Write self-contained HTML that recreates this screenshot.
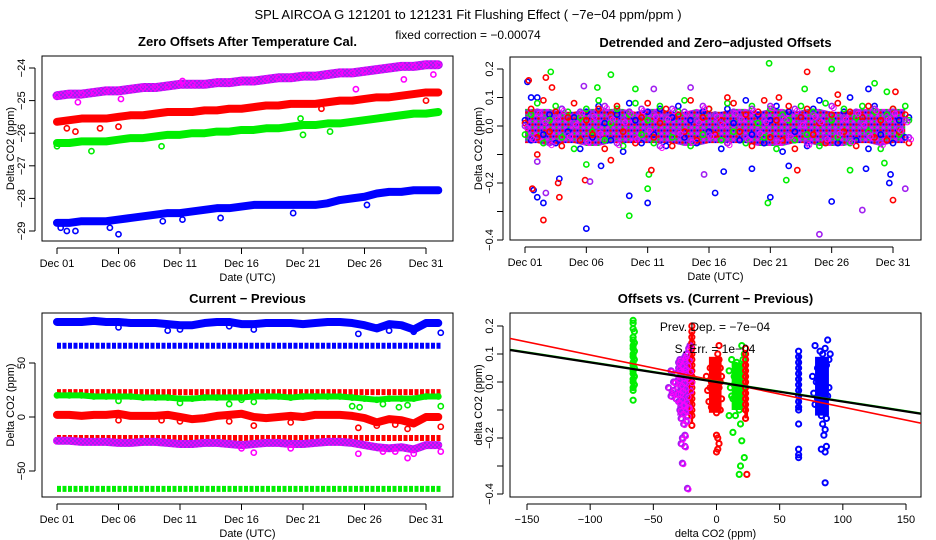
<!DOCTYPE html>
<html><head><meta charset="utf-8"><style>
body{margin:0;background:#fff;}
svg{display:block;font-family:"Liberation Sans",sans-serif;}
</style></head><body>
<svg id="chart" width="936" height="540" viewBox="0 0 936 540">
<defs>
<pattern id="mixPat" width="6" height="6" patternUnits="userSpaceOnUse">
<rect width="6" height="6" fill="#a020f0"/>
<circle cx="1.5" cy="1.5" r="1.3" fill="#ff00ff"/>
<circle cx="4.5" cy="4.5" r="1.3" fill="#ff0000"/>
<circle cx="4.5" cy="1.5" r="1" fill="#00ee00"/>
<circle cx="1.5" cy="4.5" r="1" fill="#0000ff"/>
</pattern>
<pattern id="purpPat" width="4" height="4" patternUnits="userSpaceOnUse">
<rect width="4" height="4" fill="#a020f0"/>
<circle cx="1" cy="1" r="1" fill="#ff00ff"/>
<circle cx="3" cy="3" r="1" fill="#ff00ff"/>
</pattern>
</defs>
<text x="468" y="19" text-anchor="middle" font-size="13">SPL   AIRCOA G   121201 to 121231   Fit Flushing Effect ( −7e−04 ppm/ppm )</text>
<text x="468" y="39" text-anchor="middle" font-size="12">fixed correction = −0.00074</text>
</svg>
<script>
// ---------- Panel 1: Zero offsets (daily values, days 1..32) ----------
const days = [1,2,3,4,5,6,7,8,9,10,11,12,13,14,15,16,17,18,19,20,21,22,23,24,25,26,27,28,29,30,31,32];
const zeroPurple = [-24.85,-24.8,-24.8,-24.75,-24.7,-24.7,-24.65,-24.6,-24.6,-24.55,-24.5,-24.5,-24.5,-24.45,-24.45,-24.4,-24.4,-24.35,-24.3,-24.3,-24.25,-24.25,-24.2,-24.15,-24.15,-24.1,-24.05,-24.0,-23.95,-23.95,-23.9,-23.9];
const zeroRed = [-25.65,-25.6,-25.55,-25.55,-25.55,-25.5,-25.45,-25.45,-25.4,-25.35,-25.35,-25.35,-25.3,-25.3,-25.25,-25.25,-25.2,-25.15,-25.15,-25.1,-25.1,-25.1,-25.05,-25.0,-25.0,-24.95,-24.9,-24.9,-24.85,-24.8,-24.75,-24.75];
const zeroGreen = [-26.3,-26.3,-26.25,-26.25,-26.25,-26.2,-26.15,-26.15,-26.1,-26.05,-26.05,-26.0,-26.0,-25.95,-25.95,-25.9,-25.9,-25.85,-25.85,-25.8,-25.75,-25.75,-25.7,-25.7,-25.65,-25.6,-25.55,-25.5,-25.45,-25.4,-25.4,-25.35];
const zeroBlue = [-28.75,-28.75,-28.7,-28.7,-28.7,-28.65,-28.6,-28.55,-28.5,-28.45,-28.45,-28.4,-28.35,-28.3,-28.3,-28.25,-28.2,-28.2,-28.2,-28.2,-28.2,-28.2,-28.15,-28.05,-28.0,-27.95,-27.85,-27.8,-27.8,-27.75,-27.75,-27.75];
const zeroPurpleOut = [[2.7,-25.05],[6.2,-24.95],[25.3,-24.65],[29.2,-24.35],[31.6,-24.2],[11.2,-24.4]];
const zeroRedOut = [[1.8,-25.85],[2.5,-25.95],[4.5,-25.85],[6,-25.8],[31,-25.0],[22.5,-25.25]];
const zeroGreenOut = [[1,-26.4],[3.8,-26.55],[9.5,-26.4],[21,-26.05],[23.2,-25.95],[20.8,-25.55]];
const zeroBlueOut = [[1.3,-28.9],[1.8,-29.0],[2.5,-29.0],[5.3,-28.9],[9.6,-28.7],[11.2,-28.65],[14.3,-28.6],[20.2,-28.45],[26.2,-28.2],[6,-29.1]];
const zeroTicks = [-24,-25,-26,-27,-28,-29];
const dateTicks = [1,6,11,16,21,26,31];
const dateLabels = ["Dec 01","Dec 06","Dec 11","Dec 16","Dec 21","Dec 26","Dec 31"];

// ---------- Panel 2: detrended offsets (half-day values) ----------
const halfDays = [1,1.5,2,2.5,3,3.5,4,4.5,5,5.5,6,6.5,7,7.5,8,8.5,9,9.5,10,10.5,11,11.5,12,12.5,13,13.5,14,14.5,15,15.5,16,16.5,17,17.5,18,18.5,19,19.5,20,20.5,21,21.5,22,22.5,23,23.5,24,24.5,25,25.5,26,26.5,27,27.5,28,28.5,29,29.5,30,30.5,31,31.5,32,32.3];
const detBlue = [0.02,-0.05,0.1,-0.03,0.04,-0.06,0.06,-0.02,0.03,-0.08,0.05,-0.04,0.07,0.01,-0.05,0.04,-0.09,0.08,0.02,-0.06,0.05,-0.03,0.06,-0.07,0.03,0.07,-0.04,0.02,-0.06,0.05,-0.02,0.04,-0.08,0.06,0.01,-0.05,0.09,-0.03,0.04,-0.06,0.02,0.07,-0.09,0.05,-0.02,0.03,-0.07,0.06,0.09,-0.04,0.02,-0.06,0.05,0.1,-0.05,0.03,-0.08,0.07,-0.03,0.04,-0.06,0.02,-0.04,0.03];
const detRed = [0.01,0.06,-0.04,0.09,-0.02,0.05,-0.07,0.03,0.08,-0.05,0.02,-0.03,0.06,-0.08,0.04,0.07,-0.02,0.05,-0.06,0.03,0.08,-0.04,0.01,0.06,-0.07,0.04,-0.02,0.09,-0.05,0.03,0.06,-0.03,0.02,-0.06,0.08,-0.02,0.04,-0.07,0.05,0.09,-0.04,0.02,-0.05,0.07,-0.08,0.03,0.06,-0.03,0.01,-0.06,0.04,0.08,-0.02,0.05,-0.07,0.03,0.07,-0.04,0.02,-0.05,0.06,-0.02,0.04,-0.06];
const detGreen = [-0.03,0.04,0.08,-0.06,0.02,0.07,-0.04,0.05,-0.08,0.03,0.06,-0.02,0.09,-0.05,0.01,0.06,-0.07,0.04,0.08,-0.03,0.02,-0.06,0.07,0.03,-0.04,0.05,0.09,-0.07,0.02,-0.03,0.06,0.04,-0.05,0.08,-0.02,0.03,-0.06,0.07,0.01,-0.04,0.06,-0.08,0.04,0.02,-0.05,0.07,-0.03,0.05,-0.07,0.08,0.02,-0.04,0.06,-0.06,0.03,0.07,-0.02,0.05,-0.08,0.04,0.06,-0.03,0.07,0.02];
const detPurple = [0.0,-0.04,0.05,0.02,-0.06,0.03,0.06,-0.03,0.01,0.05,-0.05,0.04,-0.02,0.07,0.03,-0.06,0.02,0.05,-0.04,0.06,-0.01,0.04,-0.07,0.03,0.06,-0.02,0.05,-0.05,0.02,0.07,-0.03,0.04,0.01,-0.06,0.05,0.03,-0.04,0.06,-0.02,0.02,0.07,-0.05,0.03,-0.03,0.06,0.01,-0.06,0.04,0.02,-0.04,0.07,-0.02,0.03,-0.05,0.05,0.01,-0.03,0.06,-0.06,0.03,0.05,-0.01,0.02,-0.04];
const detBandHigh = [0.06,0.06,0.06,0.05,0.05,0.06,0.06,0.06,0.06,0.05,0.06,0.06,0.05,0.05,0.06,0.05,0.05,0.06,0.06,0.05,0.06,0.06,0.05,0.06,0.06,0.05,0.05,0.06,0.06,0.06,0.06,0.06];
const detBandLow = [-0.06,-0.06,-0.07,-0.06,-0.06,-0.07,-0.07,-0.06,-0.06,-0.06,-0.06,-0.06,-0.06,-0.07,-0.07,-0.06,-0.06,-0.06,-0.06,-0.07,-0.07,-0.07,-0.06,-0.06,-0.07,-0.07,-0.07,-0.06,-0.06,-0.07,-0.06,-0.06];
const detBlueOut = [[1.2,0.155],[1.5,0.1],[1.7,-0.225],[2,-0.25],[2.5,-0.27],[3.8,-0.185],[6,-0.36],[9.5,-0.245],[11,-0.27],[16.5,-0.235],[21,-0.25],[26,-0.265],[29,0.13],[30.7,-0.2],[30.8,-0.17],[7.2,-0.14],[17.2,-0.16],[22.5,-0.14],[19.5,-0.15],[28.8,-0.15]];
const detRedOut = [[1.3,0.16],[1.6,-0.22],[2.7,0.17],[2.5,-0.33],[3.8,-0.25],[3.7,-0.2],[5.9,-0.19],[11.3,-0.155],[2,-0.1],[24,0.19],[31,-0.26],[8,-0.12],[17.5,0.1],[21.7,0.1],[26.5,0.11],[31.2,0.12],[23.2,-0.155],[3.2,0.135]];
const detGreenOut = [[3.1,0.19],[8,0.18],[9.5,-0.315],[11,-0.22],[11.1,-0.17],[20.9,0.22],[20.8,-0.27],[22.3,-0.19],[23.8,0.13],[26,0.2],[29.5,0.15],[30.5,0.12],[10,0.13],[6.9,0.135],[30.3,-0.13],[6,-0.135],[27.5,-0.155]];
const detPurpleOut = [[2.7,-0.235],[6.3,-0.195],[5.8,0.14],[15.6,-0.17],[25,-0.38],[28.5,-0.295],[32,-0.22],[11.5,0.13],[14.5,0.135],[2,-0.125]];
const detTicks = [0.2,0.1,0.0,-0.1,-0.2,-0.3,-0.4];
const detTickLabels = ["0.2","0.1","0.0","","−0.2","","−0.4"];

// ---------- Panel 3: current - previous (daily values) ----------
const cpBlueHigh = [88,88,88,89,88,88,87,87,87,86,85,85,87,88,88,86,86,87,87,87,86,87,88,88,87,85,82,86,85,81,87,87];
const cpRedMid = [2,2,1,2,2,3,1,1,1,2,0,-2,-1,1,2,3,0,-1,0,1,0,2,2,2,1,-1,-5,-2,-3,-6,0,0];
const cpGreenMid = [20,20,20,19,19,19,19,18,18,18,17,17,18,18,18,18,19,19,19,18,19,19,19,19,18,17,16,17,17,17,19,19];
const cpPurple = [-22,-22,-23,-23,-23,-24,-24,-23,-23,-24,-25,-25,-24,-24,-25,-26,-25,-24,-24,-25,-25,-24,-23,-23,-24,-26,-28,-29,-28,-30,-26,-26];
const cpBlueHighOut = [[6,83],[10,80],[11,81],[15,84],[17,81],[25.5,77],[28,80],[30,79],[32.2,78]];
const cpRedMidOut = [[6,-3],[9.5,-3],[11,-4],[15,-4],[17,-8],[20,-5],[25.5,-10],[27,-8],[28.5,-7],[29.5,-11],[32.2,-9]];
const cpGreenMidOut = [[6,15],[11,13],[15,12],[16,16],[17,14],[25,10],[25.6,9],[27.5,12],[28.8,9],[29.5,11],[32.2,10]];
const cpPurpleOut = [[16,-29],[17,-33],[20,-29],[25.5,-34],[27.5,-32],[28.5,-32],[29.5,-38],[30,-34],[32.2,-32]];
const cpConstLevels = [66,23,-19.5,-66.5];
const cpConstColors = ["#0000ff","#ff0000","#ff0000","#00ee00"];
const cpTicks = [50,0,-50];
const cpTickLabels = ["50","0","−50"];

// ---------- Panel 4: offsets vs current-previous ----------
const scGreenA = [[-66,0.22],[-66,0.21],[-66,0.19],[-65,0.18],[-66,0.16],[-66,0.15],[-65,0.14],[-66,0.13],[-66,0.12],[-65,0.11],[-66,0.1],[-66,0.09],[-65,0.08],[-66,0.07],[-66,0.06],[-65,0.05],[-66,0.04],[-66,0.03],[-65,0.02],[-66,0.01],[-66,0.0],[-65,-0.01],[-66,-0.02],[-66,-0.03],[-66,-0.065]];
const scPurple = [[-30,0.07],[-28,0.06],[-26,0.08],[-24,0.1],[-22,0.12],[-21,0.13],[-32,0.03],[-29,0.04],[-27,0.03],[-25,0.05],[-23,0.06],[-21,0.04],[-33,0.0],[-30,0.01],[-28,-0.01],[-26,0.0],[-24,0.02],[-22,0.01],[-20,0.0],[-34,-0.03],[-31,-0.02],[-29,-0.04],[-27,-0.03],[-25,-0.02],[-23,-0.05],[-21,-0.03],[-32,-0.06],[-30,-0.07],[-28,-0.06],[-26,-0.08],[-24,-0.07],[-22,-0.09],[-29,-0.1],[-27,-0.11],[-25,-0.1],[-23,-0.12],[-28,-0.13],[-26,-0.15],[-24,-0.14],[-38,-0.02],[-36,0.04],[-35,-0.04],[-27,-0.2],[-25,-0.19],[-28,-0.22],[-25,-0.23],[-27,-0.29],[-23,-0.38],[-34,0.0],[-36,-0.05],[-30,0.05],[-26,0.04],[-22,0.08],[-31,-0.04],[-27,-0.08],[-23,-0.09],[-29,0.08],[-25,0.09]];
const scRedA = [[-19.5,0.2],[-19.5,0.18],[-19.5,0.16],[-19.5,0.14],[-19.5,0.12],[-19.5,0.1],[-19.5,0.08],[-19.5,0.06],[-19.5,0.04],[-19.5,0.02],[-19.5,0.0],[-19.5,-0.02],[-19.5,-0.04],[-19.5,-0.06],[-19.5,-0.08],[-19.5,-0.1],[-19.5,-0.12],[-19.5,-0.155]];
const scRedB = [[-8,0.02],[-7,-0.03],[-6,-0.07],[-5,0.05],[-4,0.0],[-3,-0.04],[-2,0.06],[-1,-0.08],[0,0.03],[1,-0.05],[2,0.08],[3,-0.1],[4,0.02],[-3,0.07],[-1,0.0],[0,-0.11],[1,0.1],[2,-0.02],[3,0.05],[-2,-0.06],[0,0.07],[1,-0.09],[4,-0.06],[-5,-0.02],[2,0.13],[0,-0.19],[1,-0.2],[2,-0.22],[0,-0.25],[1,-0.24],[-4,-0.09],[3,0.0]];
const scGreenB = [[10,0.04],[11,-0.02],[12,0.08],[13,-0.06],[14,0.02],[15,0.06],[16,-0.04],[17,0.0],[18,0.05],[19,-0.08],[20,0.03],[21,-0.02],[22,0.1],[18,-0.1],[16,0.07],[14,-0.01],[12,-0.05],[20,0.13],[15,-0.12],[19,-0.15],[13,-0.18],[10,-0.12],[20,-0.21],[22,-0.27],[19,-0.3],[18,-0.33],[21,0.08]];
const scRedC = [[23,0.12],[23,0.1],[23,0.08],[23,0.06],[23,0.04],[23,0.02],[23,0.0],[23,-0.02],[23,-0.04],[23,-0.06],[23,-0.08],[23,-0.1],[23,-0.13],[24,-0.33]];
const scBlueA = [[65,0.11],[65,0.09],[65,0.07],[65,0.05],[65,0.03],[65,0.01],[65,-0.01],[65,-0.03],[65,-0.05],[65,-0.07],[65,-0.09],[65,-0.1],[65,-0.15],[65,-0.24],[65,-0.26],[65,-0.27]];
const scBlueB = [[78,0.13],[80,0.05],[82,0.07],[84,0.1],[86,0.12],[88,0.15],[79,0.0],[81,0.03],[83,-0.02],[85,0.04],[87,0.06],[89,0.08],[77,-0.04],[80,-0.06],[82,-0.03],[84,-0.08],[86,-0.01],[88,-0.05],[78,-0.08],[81,-0.1],[83,-0.12],[85,-0.09],[87,-0.13],[89,-0.02],[84,-0.15],[86,-0.17],[85,-0.19],[83,-0.24],[86,-0.25],[87,-0.23],[86,-0.36],[76,0.02],[90,0.1],[82,0.11]];
// dense cluster cores: [xMin, xMax, yMin, yMax]
const scCoreGreenA = [-67,-64,-0.03,0.15];
const scCorePurple = [-31,-20,-0.12,0.08];
const scCoreRedA = [-20.5,-18.5,-0.15,0.18];
const scCoreRedB = [-6,4,-0.11,0.09];
const scCoreGreenB = [12,21,-0.1,0.07];
const scCoreRedC = [22,25,-0.13,0.11];
const scCoreBlueA = [64,66.5,-0.1,0.1];
const scCoreBlueB = [78,89,-0.12,0.09];
const fitSlopes = [-0.00093,-0.0007,-0.0007];
const fitIntercepts = [0.0035,0.002,0.0];
const fitColors = ["#ff0000","#00ee00","#000000"];
const scXTicks = [-150,-100,-50,0,50,100,150];
const scXTickLabels = ["−150","−100","−50","0","50","100","150"];

// ---------- drawing ----------
const NS = "http://www.w3.org/2000/svg";
const svg = document.getElementById("chart");
function mk(tag, attrs, parent){const e=document.createElementNS(NS,tag);for(const k in attrs)e.setAttribute(k,attrs[k]);(parent||svg).appendChild(e);return e;}
function lin(d0,d1,r0,r1){return v=>r0+(v-d0)*(r1-r0)/(d1-d0);}

function panelFrame(p){
  const g=mk("g",{});
  
  
  const box=mk("rect",{x:p.x0,y:p.y0,width:p.x1-p.x0,height:p.y1-p.y0,fill:"none",stroke:"#000","stroke-width":1},g);
  
  
  const t=mk("text",{x:(p.x0+p.x1)/2,y:p.y0-10,"text-anchor":"middle","font-size":13,"font-weight":"bold"},g);
  t.textContent=p.title;
  
  
  const xa=mk("g",{},g);
  
  
  const xl0=p.xs(p.xt[0]),xl1=p.xs(p.xt[p.xt.length-1]);
  mk("line",{x1:xl0,x2:xl1,y1:p.y1+7,y2:p.y1+7,stroke:"#000"},xa);
  p.xt.forEach((v,i)=>{const x=p.xs(v);mk("line",{x1:x,x2:x,y1:p.y1+7,y2:p.y1+13,stroke:"#000"},xa);
    const tl=mk("text",{x:x,y:p.y1+26,"text-anchor":"middle","font-size":11},xa);tl.textContent=p.xl[i];
    
    });
  const xt=mk("text",{x:(p.x0+p.x1)/2,y:p.y1+40,"text-anchor":"middle","font-size":11},xa);xt.textContent=p.xtitle;
  
  
  const ya=mk("g",{},g);
  
  
  const yl0=p.ys(p.yt[0]),yl1=p.ys(p.yt[p.yt.length-1]);
  mk("line",{x1:p.x0-7,x2:p.x0-7,y1:yl0,y2:yl1,stroke:"#000"},ya);
  p.yt.forEach((v,i)=>{const y=p.ys(v);mk("line",{x1:p.x0-13,x2:p.x0-7,y1:y,y2:y,stroke:"#000"},ya);
    if(p.yl[i]){const tl=mk("text",{x:p.x0-17,y:y,"text-anchor":"middle","font-size":11,transform:`rotate(-90 ${p.x0-17} ${y})`},ya);tl.textContent=p.yl[i];
    
    }});
  const yt=mk("text",{x:p.x0-28,y:(p.y0+p.y1)/2,"text-anchor":"middle","font-size":11,transform:`rotate(-90 ${p.x0-28} ${(p.y0+p.y1)/2})`},ya);yt.textContent=p.ytitle;
  
  
  const clip=mk("clipPath",{id:p.name+"-clip"},g);mk("rect",{x:p.x0,y:p.y0,width:p.x1-p.x0,height:p.y1-p.y0},clip);
  const plot=mk("g",{"clip-path":`url(#${p.name}-clip)`},g);
  
  
  return plot;
}
function pt(g,x,y,c,name,sw){const e=mk("circle",{cx:x,cy:y,r:2.6,fill:"none",stroke:c,"stroke-width":sw||1.6},g);
  
  return e;}
function band(g,xs,ys,X,V,c,w,name){
  const s=mk("polyline",{points:X.map((x,i)=>xs(x)+","+ys(V[i])).join(" "),fill:"none",stroke:c,"stroke-width":w,"stroke-linejoin":"round","stroke-linecap":"round"},g);
  
  
  X.forEach((x,i)=>pt(g,xs(x),ys(V[i]),c,name+'-point'));
}
const PURPLE="#a020f0", MAG="#ff00ff";

// Panel 1
(function(){
  const p={name:"zero-offsets-panel",title:"Zero Offsets After Temperature Cal.",x0:42,x1:453,y0:56,y1:241,
    xs:lin(1,31,57,426),ys:lin(-24,-29,68,231),xt:dateTicks,xl:dateLabels,yt:zeroTicks,yl:zeroTicks.map(v=>"−"+Math.abs(v)),
    xtitle:"Date (UTC)",ytitle:"Delta CO2 (ppm)"};
  const g=panelFrame(p);
  band(g,p.xs,p.ys,days,zeroPurple,"url(#purpPat)",9,"zero-purple");
  days.forEach((x,i)=>pt(g,p.xs(x),p.ys(zeroPurple[i]),MAG,"zero-magenta-point",1));
  band(g,p.xs,p.ys,days,zeroRed,"#ff0000",8,"zero-red");
  band(g,p.xs,p.ys,days,zeroGreen,"#00ee00",8,"zero-green");
  band(g,p.xs,p.ys,days,zeroBlue,"#0000ff",8,"zero-blue");
  zeroPurpleOut.forEach(d=>pt(g,p.xs(d[0]),p.ys(d[1]),MAG,"zero-purple-outlier"));
  zeroRedOut.forEach(d=>pt(g,p.xs(d[0]),p.ys(d[1]),"#ff0000","zero-red-outlier"));
  zeroGreenOut.forEach(d=>pt(g,p.xs(d[0]),p.ys(d[1]),"#00ee00","zero-green-outlier"));
  zeroBlueOut.forEach(d=>pt(g,p.xs(d[0]),p.ys(d[1]),"#0000ff","zero-blue-outlier"));
})();

// Panel 2
(function(){
  const p={name:"detrended-panel",title:"Detrended and Zero−adjusted Offsets",x0:510,x1:921,y0:57,y1:240,
    xs:lin(1,31,525,893),ys:lin(0,0.2,126,69),xt:dateTicks,xl:dateLabels,yt:detTicks,yl:detTickLabels,
    xtitle:"Date (UTC)",ytitle:"Delta CO2 (ppm)"};
  const g=panelFrame(p);
  const pts=days.map((x,i)=>p.xs(x)+","+p.ys(detBandHigh[i])).concat(days.slice().reverse().map((x,j)=>p.xs(x)+","+p.ys(detBandLow[days.length-1-j])));
  const core=mk("polygon",{points:pts.join(" "),fill:"url(#mixPat)"},g);
  
  
  const sets=[[detBlue,"#0000ff","det-blue",detBlueOut],[detGreen,"#00ee00","det-green",detGreenOut],[detRed,"#ff0000","det-red",detRedOut],[detPurple,PURPLE,"det-purple",detPurpleOut]];
  sets.forEach(s=>{
    halfDays.forEach((x,i)=>pt(g,p.xs(x),p.ys(s[0][i]),s[1],s[2]+'-point'));
    s[3].forEach(d=>pt(g,p.xs(d[0]),p.ys(d[1]),s[1],s[2]+'-outlier'));
  });
  halfDays.forEach((x,i)=>pt(g,p.xs(x)+2,p.ys(detPurple[i])+2,MAG,'det-magenta-point',1));
})();

// Panel 3
(function(){
  const p={name:"current-previous-panel",title:"Current − Previous",x0:42,x1:453,y0:313,y1:497,
    xs:lin(1,31,57,426),ys:lin(0,50,417,363),xt:dateTicks,xl:dateLabels,yt:cpTicks,yl:cpTickLabels,
    xtitle:"Date (UTC)",ytitle:"Delta CO2 (ppm)"};
  const g=panelFrame(p);
  cpConstLevels.forEach((lv,k)=>{
    const cl=mk("line",{x1:p.xs(1),x2:p.xs(32.3),y1:p.ys(lv),y2:p.ys(lv),stroke:cpConstColors[k],"stroke-width":6,"stroke-dasharray":"4 1.5"},g);
    
    
  });
  band(g,p.xs,p.ys,days,cpBlueHigh,"#0000ff",8,"cp-blue");
  band(g,p.xs,p.ys,days,cpGreenMid,"#00ee00",6,"cp-green");
  band(g,p.xs,p.ys,days,cpRedMid,"#ff0000",8,"cp-red");
  band(g,p.xs,p.ys,days,cpPurple,"url(#purpPat)",8,"cp-purple");
  cpBlueHighOut.forEach(d=>pt(g,p.xs(d[0]),p.ys(d[1]),"#0000ff","cp-blue-dip"));
  cpRedMidOut.forEach(d=>pt(g,p.xs(d[0]),p.ys(d[1]),"#ff0000","cp-red-dip"));
  cpGreenMidOut.forEach(d=>pt(g,p.xs(d[0]),p.ys(d[1]),"#00ee00","cp-green-dip"));
  cpPurpleOut.forEach(d=>pt(g,p.xs(d[0]),p.ys(d[1]),MAG,"cp-purple-dip"));
})();

// Panel 4
(function(){
  const p={name:"offsets-vs-panel",title:"Offsets vs. (Current − Previous)",x0:510,x1:921,y0:313,y1:497,
    xs:lin(0,150,716.5,906),ys:lin(0,0.2,382,326),xt:scXTicks,xl:scXTickLabels,yt:detTicks,yl:detTickLabels,
    xtitle:"delta CO2 (ppm)",ytitle:"delta CO2 (ppm)"};
  const g=panelFrame(p);
  const cores=[[scCoreGreenA,"#00ee00"],[scCorePurple,"url(#purpPat)"],[scCoreRedA,"#ff0000"],[scCoreRedB,"#ff0000"],[scCoreGreenB,"#00ee00"],[scCoreRedC,"#ff0000"],[scCoreBlueA,"#0000ff"],[scCoreBlueB,"#0000ff"]];
  cores.forEach(c=>{
    const r=mk("rect",{x:p.xs(c[0][0]),y:p.ys(c[0][3]),width:p.xs(c[0][1])-p.xs(c[0][0]),height:p.ys(c[0][2])-p.ys(c[0][3]),fill:c[1]},g);
    
    
  });
  const sets=[[scGreenA,"#00ee00","sc-green-a"],[scPurple,PURPLE,"sc-purple"],[scRedA,"#ff0000","sc-red-a"],[scRedB,"#ff0000","sc-red-b"],[scGreenB,"#00ee00","sc-green-b"],[scRedC,"#ff0000","sc-red-c"],[scBlueA,"#0000ff","sc-blue-a"],[scBlueB,"#0000ff","sc-blue-b"]];
  sets.forEach(s=>s[0].forEach(d=>pt(g,p.xs(d[0]),p.ys(d[1]),s[1],s[2]+'-point',2)));
  scPurple.forEach(d=>pt(g,p.xs(d[0])+1,p.ys(d[1])+1,MAG,'sc-magenta-point',1));
  fitSlopes.forEach((m,k)=>{
    const xa=-170,xb=170;
    const l=mk("line",{x1:p.xs(xa),x2:p.xs(xb),y1:p.ys(fitIntercepts[k]+m*xa),y2:p.ys(fitIntercepts[k]+m*xb),stroke:fitColors[k],"stroke-width":k===2?2.2:1.6},g);
    
    
  });
  const t1=mk("text",{x:715,y:331,"text-anchor":"middle","font-size":12},g);t1.textContent="Prev. Dep. =  −7e−04";
  
  
  const t2=mk("text",{x:715,y:353,"text-anchor":"middle","font-size":12},g);t2.textContent="S. Err. =  1e−04";
  
  
})();
</script>
</body></html>
